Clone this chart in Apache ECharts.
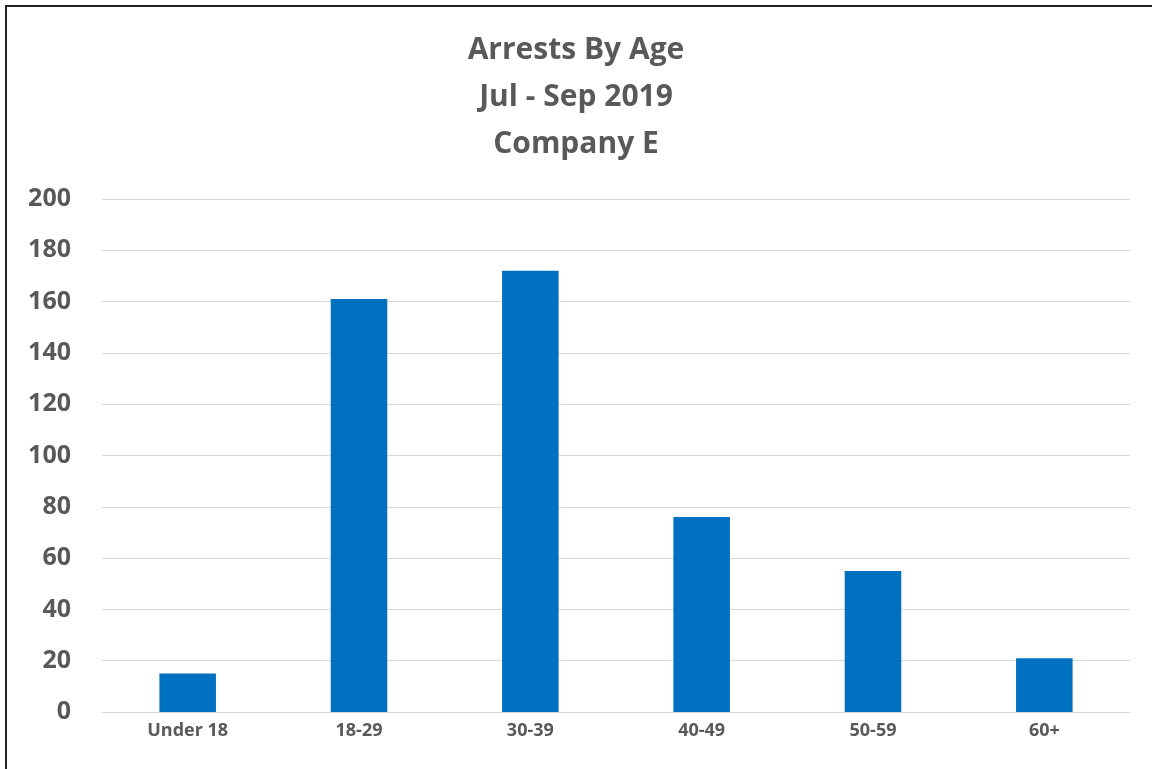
<!DOCTYPE html>
<html><head><meta charset="utf-8">
<script src="https://cdn.jsdelivr.net/npm/echarts@6/dist/echarts.min.js"></script>
<style>html,body{margin:0;padding:0;background:#fff}
#frame{position:absolute;left:0;top:0;width:1152px;height:769px;overflow:hidden}
#border{position:absolute;left:5px;top:5px;width:1200px;height:800px;border-left:2px solid #222;border-top:2px solid #222;box-sizing:border-box;pointer-events:none}
#c{position:absolute;left:0;top:0;width:1152px;height:769px}</style>
</head><body><div id="frame"><div id="c"></div><div id="border"></div></div>
<script>
const titleLines = ['Arrests By Age', 'Jul - Sep 2019', 'Company E'];
const categories = ['Under 18', '18-29', '30-39', '40-49', '50-59', '60+'];
const arrests = [15, 161, 172, 76, 55, 21];
const yMin = 0, yMax = 200, yStep = 20;

const chart = echarts.init(document.getElementById('c'), null, {renderer: 'canvas'});
chart.setOption({
  animation: false,
  title: {
    text: titleLines.join('\n'), left: 'center', top: 22,
    textStyle: {fontFamily: 'Open Sans', fontWeight: 'bold', fontSize: 30, color: '#595959', lineHeight: 47}
  },
  grid: {left: 102, right: 22, top: 199, bottom: 57},
  xAxis: {
    type: 'category', data: categories,
    axisLine: {show: true, lineStyle: {color: '#d9d9d9', width: 1}},
    axisTick: {show: false},
    axisLabel: {fontFamily: 'Open Sans', fontWeight: 'bold', fontSize: 18, color: '#595959', margin: 10}
  },
  yAxis: {
    type: 'value', min: yMin, max: yMax, interval: yStep,
    axisLine: {show: false}, axisTick: {show: false},
    splitLine: {lineStyle: {color: '#d9d9d9', width: 1}},
    axisLabel: {fontFamily: 'Open Sans', fontWeight: 'bold', fontSize: 25, color: '#595959', margin: 31}
  },
  series: [{
    type: 'bar', data: arrests, barWidth: '33%',
    itemStyle: {color: '#0070C0'}
  }]
});
</script></body></html>
